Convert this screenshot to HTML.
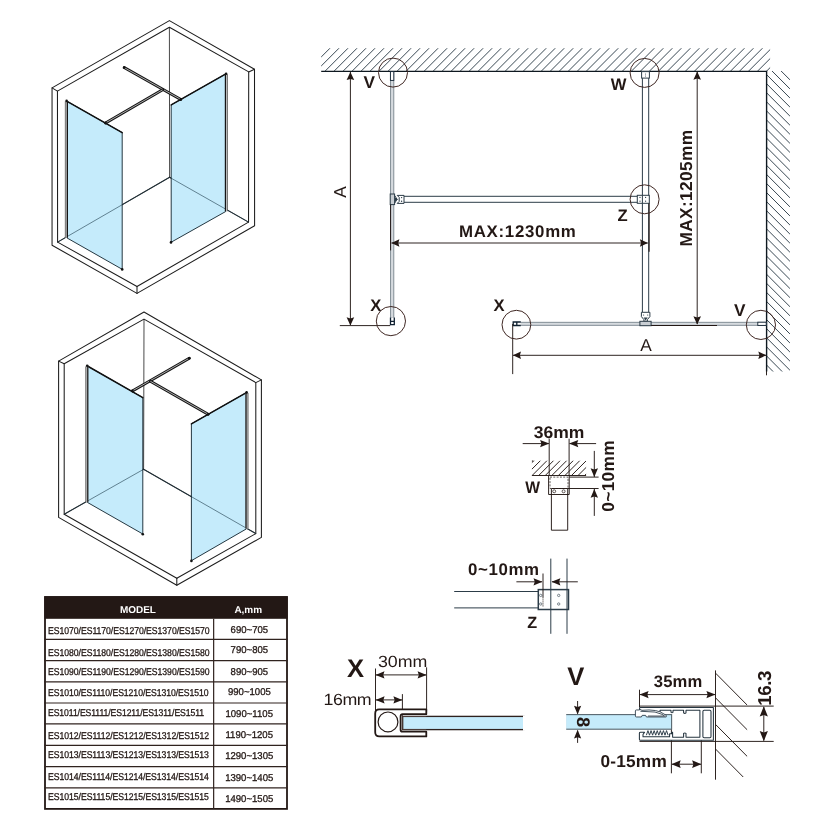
<!DOCTYPE html>
<html lang="en"><head><meta charset="utf-8"><title>Walk-in shower enclosure - installation dimensions</title>
<style>
html,body{margin:0;padding:0;background:#fff;overflow:hidden;}
svg{display:block;will-change:transform;}
text{font-family:"Liberation Sans",Arial,Helvetica,sans-serif;fill:#231815;text-rendering:geometricPrecision;}
.iso{stroke:#1c1c1c;stroke-width:1.05;fill:none;stroke-linejoin:round;stroke-linecap:round;}
.isot{stroke:#1c1c1c;stroke-width:.8;fill:none;}
.flr{stroke:#1d3b4a;stroke-width:.6;fill:none;}
.tb{stroke:#231815;stroke-width:.3;}
.gl{fill:#c5ebfb;stroke:none;}
.gle{stroke:#10222c;stroke-width:.9;fill:none;}
.glt{stroke:#111;stroke-width:1.5;fill:none;stroke-linecap:round;}
.bar{stroke:#151515;stroke-width:2.9;fill:none;stroke-linecap:round;}
.barh{stroke:#dedede;stroke-width:.75;fill:none;}
.dim{stroke:#231815;stroke-width:.95;fill:none;}
.ah{fill:#231815;stroke:none;}
.hat{stroke:#34444f;stroke-width:.98;fill:none;}
.wall{stroke:#0e1820;stroke-width:1.4;fill:none;}
.st{stroke:#2c3c48;stroke-width:1;fill:none;}
.stf{stroke:#2c3c48;stroke-width:1;fill:#fff;}
.circ{stroke:#3f2723;stroke-width:1;fill:none;}
.pg{stroke:#77838c;stroke-width:.9;fill:#d6dbdf;}
</style></head><body>
<svg width="830" height="830" viewBox="0 0 830 830">
<rect width="830" height="830" fill="#fff"/>
<g>
<polygon points="169.4,20.6 52.05,87.9 52.05,245.2 137,293.4 254.6,225.7 254.5,69.2" class="iso"/>
<polygon points="169.4,27.3 57.45,91.1 57.6,242.1 137,286.5 248.55,222.1 248.7,71.9" class="iso"/>
<line x1="52.05" y1="87.9" x2="57.45" y2="91.1" class="iso"/>
<line x1="137" y1="293.4" x2="137" y2="286.5" class="iso"/>
<line x1="254.5" y1="69.2" x2="248.7" y2="71.9" class="iso"/>
<line x1="169.4" y1="27.3" x2="169.6" y2="177.3" class="isot"/>
<line x1="169.6" y1="177.3" x2="57.6" y2="242.1" class="iso"/>
<line x1="169.6" y1="177.3" x2="248.55" y2="222.1" class="iso"/>
<polygon points="67.1,101.3 122.2,132.6 122.2,269.3 67.1,238" class="gl"/>
<polygon points="171.2,104.9 225.9,73.8 225.9,211.4 171.2,242.2" class="gl"/>
<line x1="169.6" y1="177.3" x2="57.6" y2="242.1" class="flr"/>
<line x1="169.6" y1="177.3" x2="248.55" y2="222.1" class="flr"/>
<polygon points="67.1,101.3 122.2,132.6 122.2,269.3 67.1,238" class="gle"/>
<line x1="67.1" y1="101.3" x2="122.2" y2="132.6" class="glt"/>
<polygon points="171.2,104.9 225.9,73.8 225.9,211.4 171.2,242.2" class="gle"/>
<line x1="171.2" y1="104.9" x2="225.9" y2="73.8" class="glt"/>
<line x1="66.5" y1="101.4" x2="66.5" y2="237.8" stroke="#b9b9b9" stroke-width="2.6"/>
<line x1="67.4" y1="101.4" x2="67.4" y2="237.8" stroke="#151515" stroke-width="1.2"/>
<line x1="65.3" y1="101.4" x2="65.3" y2="237.8" stroke="#3a3a3a" stroke-width=".6"/>
<line x1="226.3" y1="74.2" x2="226.3" y2="211.2" stroke="#b9b9b9" stroke-width="2.6"/>
<line x1="225.4" y1="74.2" x2="225.4" y2="211.2" stroke="#151515" stroke-width="1.2"/>
<line x1="227.5" y1="74.2" x2="227.5" y2="211.2" stroke="#3a3a3a" stroke-width=".6"/>
<line x1="124.2" y1="67.6" x2="180.8" y2="99.4" class="bar"/>
<line x1="124.2" y1="67.6" x2="180.8" y2="99.4" class="barh"/>
<line x1="105.6" y1="122.9" x2="162.6" y2="89.8" class="bar"/>
<line x1="105.6" y1="122.9" x2="162.6" y2="89.8" class="barh"/>
<circle cx="66.6" cy="100.9" r="1.3" fill="#111"/>
<circle cx="226.1" cy="73.8" r="1.3" fill="#111"/>
<circle cx="122.2" cy="269.4" r="1.3" fill="#111"/>
<circle cx="171" cy="242.4" r="1.3" fill="#111"/>
<circle cx="105.6" cy="122.9" r="1.3" fill="#111"/>
<circle cx="180.8" cy="99.4" r="1.3" fill="#111"/>
<circle cx="124.2" cy="67.6" r="1.3" fill="#111"/>
</g>
<g>
<polygon points="144,312 58.6,361.1 58.6,517.4 176.8,585.2 261.4,537.4 261.4,379.9" class="iso"/>
<polygon points="144,319.1 64.2,363.8 64.2,514.2 176.8,578.2 255.8,533.6 255.8,382.6" class="iso"/>
<line x1="58.6" y1="361.1" x2="64.2" y2="363.8" class="iso"/>
<line x1="176.8" y1="585.2" x2="176.8" y2="578.2" class="iso"/>
<line x1="261.4" y1="379.9" x2="255.8" y2="382.6" class="iso"/>
<line x1="144" y1="319.1" x2="143.6" y2="469.3" class="isot"/>
<line x1="143.6" y1="469.3" x2="64.2" y2="514.2" class="iso"/>
<line x1="143.6" y1="469.3" x2="255.8" y2="533.6" class="iso"/>
<polygon points="87.4,366 142.8,397.6 142.8,534 87.4,502.4" class="gl"/>
<polygon points="191.4,423.8 246.4,392.6 246.4,528.9 191.4,560.7" class="gl"/>
<line x1="143.6" y1="469.3" x2="64.2" y2="514.2" class="flr"/>
<line x1="143.6" y1="469.3" x2="255.8" y2="533.6" class="flr"/>
<polygon points="87.4,366 142.8,397.6 142.8,534 87.4,502.4" class="gle"/>
<line x1="87.4" y1="366" x2="142.8" y2="397.6" class="glt"/>
<polygon points="191.4,423.8 246.4,392.6 246.4,528.9 191.4,560.7" class="gle"/>
<line x1="191.4" y1="423.8" x2="246.4" y2="392.6" class="glt"/>
<line x1="86.9" y1="366.4" x2="86.9" y2="502.2" stroke="#b9b9b9" stroke-width="2.6"/>
<line x1="87.8" y1="366.4" x2="87.8" y2="502.2" stroke="#151515" stroke-width="1.2"/>
<line x1="85.7" y1="366.4" x2="85.7" y2="502.2" stroke="#3a3a3a" stroke-width=".6"/>
<line x1="246.9" y1="392.9" x2="246.9" y2="528.6" stroke="#b9b9b9" stroke-width="2.6"/>
<line x1="246" y1="392.9" x2="246" y2="528.6" stroke="#151515" stroke-width="1.2"/>
<line x1="248.1" y1="392.9" x2="248.1" y2="528.6" stroke="#3a3a3a" stroke-width=".6"/>
<line x1="132.4" y1="390.9" x2="189.3" y2="358.2" class="bar"/>
<line x1="132.4" y1="390.9" x2="189.3" y2="358.2" class="barh"/>
<line x1="150.4" y1="381.3" x2="208.1" y2="414.2" class="bar"/>
<line x1="150.4" y1="381.3" x2="208.1" y2="414.2" class="barh"/>
<circle cx="87.2" cy="365.8" r="1.3" fill="#111"/>
<circle cx="246.6" cy="392.4" r="1.3" fill="#111"/>
<circle cx="142.8" cy="534.2" r="1.3" fill="#111"/>
<circle cx="191.4" cy="560.9" r="1.3" fill="#111"/>
<circle cx="132.4" cy="390.9" r="1.3" fill="#111"/>
<circle cx="208.1" cy="414.2" r="1.3" fill="#111"/>
<circle cx="189.3" cy="358.2" r="1.3" fill="#111"/>
</g>
<g>
<rect x="45" y="597" width="242" height="211.9" fill="#fff" stroke="#231815" stroke-width="1.8"/>
<rect x="44.4" y="596.4" width="243.2" height="22.4" fill="#231815"/>
<line x1="44.4" y1="639.45" x2="287.6" y2="639.45" stroke="#30231f" stroke-width="1.2"/>
<line x1="44.4" y1="660.6" x2="287.6" y2="660.6" stroke="#30231f" stroke-width="1.2"/>
<line x1="44.4" y1="681.8" x2="287.6" y2="681.8" stroke="#30231f" stroke-width="1.2"/>
<line x1="44.4" y1="703" x2="287.6" y2="703" stroke="#30231f" stroke-width="1.2"/>
<line x1="44.4" y1="723.9" x2="287.6" y2="723.9" stroke="#30231f" stroke-width="1.2"/>
<line x1="44.4" y1="745.4" x2="287.6" y2="745.4" stroke="#30231f" stroke-width="1.2"/>
<line x1="44.4" y1="766.6" x2="287.6" y2="766.6" stroke="#30231f" stroke-width="1.2"/>
<line x1="44.4" y1="787.8" x2="287.6" y2="787.8" stroke="#30231f" stroke-width="1.2"/>
<line x1="213.65" y1="618.8" x2="213.65" y2="808.9" stroke="#30231f" stroke-width="1.2"/>
<text font-size="9.98" font-weight="bold" transform="translate(119.9 612.9)" style="fill:#fff">MODEL</text>
<text font-size="9.98" font-weight="bold" transform="translate(234.4 612.9)" style="fill:#fff">A,mm</text>
<text font-size="9.83" letter-spacing="-0.043" transform="translate(48.01 633.9) scale(0.8800 1)" class="tb">ES1070/ES1170/ES1270/ES1370/ES1570</text>
<text font-size="9.88" transform="translate(230.57 632.6) scale(0.9700 1)" class="tb">690~705</text>
<text font-size="9.83" letter-spacing="-0.043" transform="translate(48.01 656.3) scale(0.8800 1)" class="tb">ES1080/ES1180/ES1280/ES1380/ES1580</text>
<text font-size="9.88" transform="translate(230.57 653.3) scale(0.9700 1)" class="tb">790~805</text>
<text font-size="9.83" letter-spacing="-0.043" transform="translate(48.01 675.3) scale(0.8800 1)" class="tb">ES1090/ES1190/ES1290/ES1390/ES1590</text>
<text font-size="9.88" transform="translate(230.59 675.3) scale(0.9700 1)" class="tb">890~905</text>
<text font-size="9.83" letter-spacing="-0.055" transform="translate(48.01 695.9) scale(0.8800 1)" class="tb">ES1010/ES1110/ES1210/ES1310/ES1510</text>
<text font-size="9.88" transform="translate(227.93 695) scale(0.9700 1)" class="tb">990~1005</text>
<text font-size="9.83" letter-spacing="-0.101" transform="translate(48.01 715.5) scale(0.8800 1)" class="tb">ES1011/ES1111/ES1211/ES1311/ES1511</text>
<text font-size="9.88" transform="translate(225.46 717) scale(0.9700 1)" class="tb">1090~1105</text>
<text font-size="9.83" letter-spacing="-0.037" transform="translate(48.01 738.9) scale(0.8800 1)" class="tb">ES1012/ES1112/ES1212/ES1312/ES1512</text>
<text font-size="9.88" transform="translate(225.46 738.2) scale(0.9700 1)" class="tb">1190~1205</text>
<text font-size="9.83" letter-spacing="-0.047" transform="translate(48.01 757.7) scale(0.8800 1)" class="tb">ES1013/ES1113/ES1213/ES1313/ES1513</text>
<text font-size="9.88" transform="translate(225.13 759.3) scale(0.9700 1)" class="tb">1290~1305</text>
<text font-size="9.83" letter-spacing="-0.050" transform="translate(48.01 780.2) scale(0.8800 1)" class="tb">ES1014/ES1114/ES1214/ES1314/ES1514</text>
<text font-size="9.88" transform="translate(225.13 781.2) scale(0.9700 1)" class="tb">1390~1405</text>
<text font-size="9.83" letter-spacing="-0.047" transform="translate(48.01 800) scale(0.8800 1)" class="tb">ES1015/ES1115/ES1215/ES1315/ES1515</text>
<text font-size="9.88" transform="translate(225.13 801.5) scale(0.9700 1)" class="tb">1490~1505</text>
</g>
<defs>
<clipPath id="ct"><rect x="321.2" y="48.2" width="448.9" height="22.9"/></clipPath>
<clipPath id="cr"><rect x="766.5" y="71" width="23.4" height="300.5"/></clipPath>
</defs>
<g>
<g clip-path="url(#ct)">
<line x1="338.2" y1="40" x2="298.2" y2="80" class="hat"/>
<line x1="347.21" y1="40" x2="307.21" y2="80" class="hat"/>
<line x1="356.22" y1="40" x2="316.22" y2="80" class="hat"/>
<line x1="365.23" y1="40" x2="325.23" y2="80" class="hat"/>
<line x1="374.24" y1="40" x2="334.24" y2="80" class="hat"/>
<line x1="383.25" y1="40" x2="343.25" y2="80" class="hat"/>
<line x1="392.26" y1="40" x2="352.26" y2="80" class="hat"/>
<line x1="401.27" y1="40" x2="361.27" y2="80" class="hat"/>
<line x1="410.28" y1="40" x2="370.28" y2="80" class="hat"/>
<line x1="419.29" y1="40" x2="379.29" y2="80" class="hat"/>
<line x1="428.3" y1="40" x2="388.3" y2="80" class="hat"/>
<line x1="437.31" y1="40" x2="397.31" y2="80" class="hat"/>
<line x1="446.32" y1="40" x2="406.32" y2="80" class="hat"/>
<line x1="455.33" y1="40" x2="415.33" y2="80" class="hat"/>
<line x1="464.34" y1="40" x2="424.34" y2="80" class="hat"/>
<line x1="473.35" y1="40" x2="433.35" y2="80" class="hat"/>
<line x1="482.36" y1="40" x2="442.36" y2="80" class="hat"/>
<line x1="491.37" y1="40" x2="451.37" y2="80" class="hat"/>
<line x1="500.38" y1="40" x2="460.38" y2="80" class="hat"/>
<line x1="509.39" y1="40" x2="469.39" y2="80" class="hat"/>
<line x1="518.4" y1="40" x2="478.4" y2="80" class="hat"/>
<line x1="527.41" y1="40" x2="487.41" y2="80" class="hat"/>
<line x1="536.42" y1="40" x2="496.42" y2="80" class="hat"/>
<line x1="545.43" y1="40" x2="505.43" y2="80" class="hat"/>
<line x1="554.44" y1="40" x2="514.44" y2="80" class="hat"/>
<line x1="563.45" y1="40" x2="523.45" y2="80" class="hat"/>
<line x1="572.46" y1="40" x2="532.46" y2="80" class="hat"/>
<line x1="581.47" y1="40" x2="541.47" y2="80" class="hat"/>
<line x1="590.48" y1="40" x2="550.48" y2="80" class="hat"/>
<line x1="599.49" y1="40" x2="559.49" y2="80" class="hat"/>
<line x1="608.5" y1="40" x2="568.5" y2="80" class="hat"/>
<line x1="617.51" y1="40" x2="577.51" y2="80" class="hat"/>
<line x1="626.52" y1="40" x2="586.52" y2="80" class="hat"/>
<line x1="635.53" y1="40" x2="595.53" y2="80" class="hat"/>
<line x1="644.54" y1="40" x2="604.54" y2="80" class="hat"/>
<line x1="653.55" y1="40" x2="613.55" y2="80" class="hat"/>
<line x1="662.56" y1="40" x2="622.56" y2="80" class="hat"/>
<line x1="671.57" y1="40" x2="631.57" y2="80" class="hat"/>
<line x1="680.58" y1="40" x2="640.58" y2="80" class="hat"/>
<line x1="689.59" y1="40" x2="649.59" y2="80" class="hat"/>
<line x1="698.6" y1="40" x2="658.6" y2="80" class="hat"/>
<line x1="707.61" y1="40" x2="667.61" y2="80" class="hat"/>
<line x1="716.62" y1="40" x2="676.62" y2="80" class="hat"/>
<line x1="725.63" y1="40" x2="685.63" y2="80" class="hat"/>
<line x1="734.64" y1="40" x2="694.64" y2="80" class="hat"/>
<line x1="743.65" y1="40" x2="703.65" y2="80" class="hat"/>
<line x1="752.66" y1="40" x2="712.66" y2="80" class="hat"/>
<line x1="761.67" y1="40" x2="721.67" y2="80" class="hat"/>
<line x1="770.68" y1="40" x2="730.68" y2="80" class="hat"/>
<line x1="779.69" y1="40" x2="739.69" y2="80" class="hat"/>
<line x1="788.7" y1="40" x2="748.7" y2="80" class="hat"/>
<line x1="797.71" y1="40" x2="757.71" y2="80" class="hat"/>
<line x1="806.72" y1="40" x2="766.72" y2="80" class="hat"/>
</g>
<g clip-path="url(#cr)">
<line x1="760" y1="49.9" x2="800" y2="89.9" class="hat"/>
<line x1="760" y1="58.98" x2="800" y2="98.98" class="hat"/>
<line x1="760" y1="68.05" x2="800" y2="108.05" class="hat"/>
<line x1="760" y1="77.13" x2="800" y2="117.13" class="hat"/>
<line x1="760" y1="86.2" x2="800" y2="126.2" class="hat"/>
<line x1="760" y1="95.28" x2="800" y2="135.28" class="hat"/>
<line x1="760" y1="104.35" x2="800" y2="144.35" class="hat"/>
<line x1="760" y1="113.43" x2="800" y2="153.43" class="hat"/>
<line x1="760" y1="122.5" x2="800" y2="162.5" class="hat"/>
<line x1="760" y1="131.58" x2="800" y2="171.58" class="hat"/>
<line x1="760" y1="140.65" x2="800" y2="180.65" class="hat"/>
<line x1="760" y1="149.73" x2="800" y2="189.73" class="hat"/>
<line x1="760" y1="158.8" x2="800" y2="198.8" class="hat"/>
<line x1="760" y1="167.88" x2="800" y2="207.88" class="hat"/>
<line x1="760" y1="176.95" x2="800" y2="216.95" class="hat"/>
<line x1="760" y1="186.03" x2="800" y2="226.03" class="hat"/>
<line x1="760" y1="195.1" x2="800" y2="235.1" class="hat"/>
<line x1="760" y1="204.18" x2="800" y2="244.18" class="hat"/>
<line x1="760" y1="213.25" x2="800" y2="253.25" class="hat"/>
<line x1="760" y1="222.33" x2="800" y2="262.33" class="hat"/>
<line x1="760" y1="231.4" x2="800" y2="271.4" class="hat"/>
<line x1="760" y1="240.48" x2="800" y2="280.48" class="hat"/>
<line x1="760" y1="249.55" x2="800" y2="289.55" class="hat"/>
<line x1="760" y1="258.63" x2="800" y2="298.63" class="hat"/>
<line x1="760" y1="267.7" x2="800" y2="307.7" class="hat"/>
<line x1="760" y1="276.78" x2="800" y2="316.78" class="hat"/>
<line x1="760" y1="285.85" x2="800" y2="325.85" class="hat"/>
<line x1="760" y1="294.93" x2="800" y2="334.93" class="hat"/>
<line x1="760" y1="304" x2="800" y2="344" class="hat"/>
<line x1="760" y1="313.08" x2="800" y2="353.08" class="hat"/>
<line x1="760" y1="322.15" x2="800" y2="362.15" class="hat"/>
<line x1="760" y1="331.23" x2="800" y2="371.23" class="hat"/>
<line x1="760" y1="340.3" x2="800" y2="380.3" class="hat"/>
<line x1="760" y1="349.38" x2="800" y2="389.38" class="hat"/>
<line x1="760" y1="358.45" x2="800" y2="398.45" class="hat"/>
<line x1="760" y1="367.53" x2="800" y2="407.53" class="hat"/>
<line x1="760" y1="376.6" x2="800" y2="416.6" class="hat"/>
</g>
<polyline points="321.2,71.4 766.6,71.4 766.6,371.5" class="wall"/>
<line x1="766.5" y1="371" x2="766.5" y2="375.3" class="dim"/>
<rect x="390.6" y="72" width="3.2" height="246" class="pg"/>
<rect x="390.4" y="71.6" width="3.4" height="8.8" fill="#fff" stroke="#0f2030" stroke-width=".9"/>
<rect x="390.4" y="317.6" width="4" height="7.2" fill="#fff"/>
<path d="M390.5 317.4 V324.7 H394.3 V317.4 M390.5 321.4 H394.3" fill="none" stroke="#0f2030" stroke-width="1.3"/>
<rect x="516" y="322.3" width="250" height="3" class="pg"/>
<rect x="513" y="321.8" width="7.6" height="3.8" fill="#fff"/>
<path d="M520.8 322 H513.2 V325.5 H520.8 M516.8 322 V325.5" fill="none" stroke="#0f2030" stroke-width="1.3"/>
<rect x="757.8" y="322.2" width="8.4" height="3.2" fill="#fff" stroke="#0f2030" stroke-width=".9"/>
<line x1="404" y1="196.3" x2="637.3" y2="196.3" class="st" stroke-width="1.1"/>
<line x1="404" y1="202.3" x2="637.3" y2="202.3" class="st" stroke-width="1.1"/>
<rect x="390.2" y="194" width="4.4" height="10.6" class="stf" style="fill:#c9ced3"/>
<path d="M394.8 195.6 L397 199.3 L394.8 203 M397.2 195.4 H404 V203.4 H397.2 L399.2 201.4 V197.4 Z" class="st"/>
<circle cx="401.6" cy="197.6" r=".7" fill="#2c3c48"/><circle cx="401.6" cy="201.2" r=".7" fill="#2c3c48"/>
<path d="M395 197.4 L398 199.3 L395 201.4 Z" fill="#2c3c48"/>
<line x1="642.4" y1="78" x2="642.4" y2="312.3" class="st" stroke-width="1.1"/>
<line x1="648.7" y1="78" x2="648.7" y2="312.3" class="st" stroke-width="1.1"/>
<rect x="641.6" y="71.6" width="7.8" height="6.5" class="stf"/>
<circle cx="645.5" cy="74" r=".5" fill="#2c3c48"/><circle cx="645.5" cy="76" r=".5" fill="#2c3c48"/>
<rect x="637.3" y="195.3" width="12" height="8" class="stf" stroke-width="1"/>
<line x1="642.4" y1="195.3" x2="642.4" y2="203.3" class="st"/>
<circle cx="640" cy="197.4" r=".6" fill="#2c3c48"/><circle cx="640" cy="201.2" r=".6" fill="#2c3c48"/>
<circle cx="645.6" cy="197.4" r=".6" fill="#2c3c48"/><circle cx="645.6" cy="201.2" r=".6" fill="#2c3c48"/>
<path d="M641.4 312.3 H649.9 V316.6 L647.4 319.6 V321.3 H643.9 V319.6 L641.4 316.6 Z" class="stf"/>
<path d="M643.6 317.6 L645.6 320.6 L647.7 317.6 Z" fill="#2c3c48"/>
<circle cx="643.6" cy="315" r=".6" fill="#2c3c48"/><circle cx="647.7" cy="315" r=".6" fill="#2c3c48"/>
<rect x="639.9" y="321.3" width="11.2" height="4.4" class="stf" style="fill:#c9ced3"/>
<line x1="350.4" y1="72" x2="350.4" y2="325" class="dim"/>
<polygon points="350.4,72 346.6,80.1 350.4,78.97 354.2,80.1" class="ah"/>
<polygon points="350.4,325.4 346.6,317.3 350.4,318.43 354.2,317.3" class="ah"/>
<line x1="339.8" y1="325.6" x2="390.2" y2="325.6" class="dim"/>
<text font-size="17.26" transform="translate(346 197.64) rotate(-90)">A</text>
<line x1="390.6" y1="204.6" x2="390.6" y2="250.4" stroke="#231815" stroke-width="1"/>
<line x1="391.5" y1="243" x2="647.7" y2="243" class="dim"/>
<polygon points="391.3,243 399.4,239.2 398.27,243 399.4,246.8" class="ah"/>
<polygon points="648,243 639.9,239.2 641.03,243 639.9,246.8" class="ah"/>
<text font-size="16.85" font-weight="bold" letter-spacing="0.709" transform="translate(459 237.4)">MAX:1230mm</text>
<line x1="649.1" y1="203.3" x2="649.1" y2="251.8" stroke="#231815" stroke-width="1.1"/>
<line x1="697.2" y1="72" x2="697.2" y2="324" class="dim"/>
<polygon points="697.2,71.6 693.4,79.7 697.2,78.57 701,79.7" class="ah"/>
<polygon points="697.2,324.4 693.4,316.3 697.2,317.43 701,316.3" class="ah"/>
<text font-size="17.26" font-weight="bold" letter-spacing="0.390" transform="translate(692 246.52) rotate(-90)">MAX:1205mm</text>
<line x1="651.1" y1="325.5" x2="717" y2="325.5" stroke="#231815" stroke-width="1"/>
<line x1="512.7" y1="324" x2="512.7" y2="374.1" class="dim"/>
<line x1="513" y1="355.3" x2="766.2" y2="355.3" class="dim"/>
<polygon points="512.9,355.3 521,351.5 519.87,355.3 521,359.1" class="ah"/>
<polygon points="766.4,355.3 758.3,351.5 759.43,355.3 758.3,359.1" class="ah"/>
<text font-size="17.26" transform="translate(640.36 351)">A</text>
<circle cx="393" cy="72.6" r="14.5" class="circ"/>
<circle cx="644.6" cy="72.9" r="14.5" class="circ"/>
<circle cx="644.6" cy="199.3" r="14.5" class="circ"/>
<circle cx="390.9" cy="321.1" r="14.6" class="circ"/>
<circle cx="516.4" cy="324.7" r="14.4" class="circ"/>
<circle cx="760.9" cy="324.9" r="14.6" class="circ"/>
<text font-size="17.26" font-weight="bold" transform="translate(363.46 87.9)">V</text>
<text font-size="16.64" font-weight="bold" transform="translate(610.74 90.1)">W</text>
<text font-size="16.64" font-weight="bold" transform="translate(617.38 220.8)">Z</text>
<text font-size="16.64" font-weight="bold" transform="translate(370.37 311)">X</text>
<text font-size="16.64" font-weight="bold" transform="translate(493.57 311)">X</text>
<text font-size="17.26" font-weight="bold" transform="translate(734.01 316)">V</text>
</g>
<defs><clipPath id="cw"><rect x="531.9" y="460.8" width="54.2" height="14.7"/></clipPath></defs>
<g>
<text font-size="16.85" font-weight="bold" letter-spacing="-0.016" transform="translate(533.76 437.7) scale(1.0400 1)">36mm</text>
<line x1="522.7" y1="443.6" x2="548.9" y2="443.6" class="dim"/>
<polygon points="549.3,443.6 540.1,440 541.39,443.6 540.1,447.2" class="ah"/>
<line x1="569.6" y1="443.6" x2="596.1" y2="443.6" class="dim"/>
<polygon points="569.1,443.6 578.3,440 577.01,443.6 578.3,447.2" class="ah"/>
<line x1="549.2" y1="438.7" x2="549.2" y2="476" class="dim"/>
<line x1="569.1" y1="438.7" x2="569.1" y2="476" class="dim"/>
<g clip-path="url(#cw)">
<line x1="554.5" y1="440" x2="504.5" y2="490" class="dim" stroke-width="0.9"/>
<line x1="561.06" y1="440" x2="511.06" y2="490" class="dim" stroke-width="0.9"/>
<line x1="567.62" y1="440" x2="517.62" y2="490" class="dim" stroke-width="0.9"/>
<line x1="574.18" y1="440" x2="524.18" y2="490" class="dim" stroke-width="0.9"/>
<line x1="580.74" y1="440" x2="530.74" y2="490" class="dim" stroke-width="0.9"/>
<line x1="587.3" y1="440" x2="537.3" y2="490" class="dim" stroke-width="0.9"/>
<line x1="593.86" y1="440" x2="543.86" y2="490" class="dim" stroke-width="0.9"/>
<line x1="600.42" y1="440" x2="550.42" y2="490" class="dim" stroke-width="0.9"/>
<line x1="606.98" y1="440" x2="556.98" y2="490" class="dim" stroke-width="0.9"/>
<line x1="613.54" y1="440" x2="563.54" y2="490" class="dim" stroke-width="0.9"/>
<line x1="620.1" y1="440" x2="570.1" y2="490" class="dim" stroke-width="0.9"/>
<line x1="626.66" y1="440" x2="576.66" y2="490" class="dim" stroke-width="0.9"/>
<line x1="633.22" y1="440" x2="583.22" y2="490" class="dim" stroke-width="0.9"/>
</g>
<line x1="531.9" y1="461" x2="534.6" y2="461" class="dim" stroke-dasharray="1.4 1.2"/>
<line x1="531.9" y1="475.5" x2="586.1" y2="475.5" class="dim" stroke-width="0.9"/>
<line x1="569.3" y1="477.1" x2="598.6" y2="477.1" class="dim"/>
<line x1="567.7" y1="488.5" x2="598.6" y2="488.5" class="dim"/>
<polyline points="548.6,475.5 548.6,494.5 569.2,494.5 569.2,475.5" class="dim" stroke-width="1"/>
<rect x="550" y="477.1" width="18" height="11.4" fill="none" stroke="#231815" stroke-width=".7" stroke-dasharray="2 1.3"/>
<line x1="551.4" y1="488.5" x2="567.7" y2="488.5" class="dim" stroke-width=".9"/>
<polyline points="551.4,488.5 551.4,530.2 567.7,530.2 567.7,488.5" class="dim" stroke-width="1"/>
<circle cx="554.2" cy="491.3" r="1.5" fill="#fff" stroke="#231815" stroke-width=".7"/><circle cx="563.6" cy="491.3" r="1.5" fill="#fff" stroke="#231815" stroke-width=".7"/>
<line x1="594.3" y1="450.9" x2="594.3" y2="477" class="dim"/>
<polygon points="594.3,477.1 590.6,468.2 594.3,469.45 598,468.2" class="ah"/>
<line x1="594.3" y1="489" x2="594.3" y2="515.9" class="dim"/>
<polygon points="594.3,488.9 590.6,497.8 594.3,496.55 598,497.8" class="ah"/>
<text font-size="17.26" font-weight="bold" letter-spacing="0.350" transform="translate(614.3 511.69) rotate(-90)">0~10mm</text>
<text font-size="16.64" font-weight="bold" transform="translate(525.21 493.4) scale(0.9400 1)">W</text>
</g>
<g>
<text font-size="16.85" font-weight="bold" letter-spacing="0.637" transform="translate(467.93 575.4)">0~10mm</text>
<line x1="454.2" y1="591.5" x2="538.3" y2="591.5" class="st" stroke-width="1.3"/>
<line x1="454.2" y1="607.9" x2="538.3" y2="607.9" class="st" stroke-width="1.3"/>
<line x1="550.8" y1="558.6" x2="550.8" y2="633.8" class="st" stroke-width="1.3"/>
<line x1="567" y1="558.6" x2="567" y2="633.8" class="st" stroke-width="1.3"/>
<rect x="538.3" y="589.6" width="30.2" height="19.9" fill="none" stroke="#2c3c48" stroke-width="1.5"/>
<line x1="543" y1="573.5" x2="543" y2="597.4" class="dim"/>
<line x1="543" y1="597.4" x2="543" y2="606.4" class="dim" stroke-dasharray="1 1"/>
<line x1="516.4" y1="581.8" x2="542" y2="581.8" class="dim"/>
<polygon points="542.4,581.8 533.5,578.2 534.75,581.8 533.5,585.4" class="ah"/>
<line x1="552" y1="581.8" x2="577.8" y2="581.8" class="dim"/>
<polygon points="551.5,581.8 560.4,578.2 559.15,581.8 560.4,585.4" class="ah"/>
<circle cx="540.7" cy="595.4" r="1.2" fill="#fff" stroke="#2c3c48" stroke-width=".6"/>
<circle cx="540.7" cy="604" r="1.2" fill="#fff" stroke="#2c3c48" stroke-width=".6"/>
<circle cx="558.7" cy="595.4" r="1.2" fill="#fff" stroke="#2c3c48" stroke-width=".6"/>
<circle cx="558.7" cy="604" r="1.2" fill="#fff" stroke="#2c3c48" stroke-width=".6"/>
<text font-size="16.22" font-weight="bold" transform="translate(527.21 628)">Z</text>
</g>
<g>
<text font-size="25.58" font-weight="bold" transform="translate(346.89 677.4)">X</text>
<text font-size="16.22" letter-spacing="-0.012" transform="translate(377.89 666.6) scale(1.1000 1)">30mm</text>
<text font-size="16.22" letter-spacing="-0.429" transform="translate(323.56 704.6) scale(1.1000 1)">16mm</text>
<line x1="375.5" y1="668.5" x2="375.5" y2="710.8" class="dim"/>
<line x1="426.6" y1="667.3" x2="426.6" y2="711.7" class="dim"/>
<line x1="402.4" y1="694.1" x2="402.4" y2="715.8" class="dim"/>
<line x1="376" y1="674.9" x2="426" y2="674.9" class="dim"/>
<polygon points="375.5,674.9 384.5,671.3 383.24,674.9 384.5,678.5" class="ah"/>
<polygon points="426.6,674.9 417.6,671.3 418.86,674.9 417.6,678.5" class="ah"/>
<line x1="376" y1="699.9" x2="402" y2="699.9" class="dim"/>
<polygon points="375.6,699.9 384.6,696.3 383.34,699.9 384.6,703.5" class="ah"/>
<polygon points="402.4,699.9 393.4,696.3 394.66,699.9 393.4,703.5" class="ah"/>
<rect x="402.6" y="716.4" width="121.4" height="13.2" fill="#c5ebfb" stroke="#2e211e" stroke-width="1.35"/>
<rect x="523" y="715.4" width="3" height="15.4" fill="#fff"/>
<path d="M426.3 714.2 V709.4 H379.3 Q375.2 709.4 375.2 713.5 V732.3 Q375.2 736.4 379.3 736.4 H426.3 V731.7 H402.6 Q400.6 731.7 400.6 729.7 V716.2 Q400.6 714.2 402.6 714.2 Z" fill="#fff" stroke="#231815" stroke-width="1.8" stroke-linejoin="round"/>
<path d="M426.3 716.5 H402.6 V729.5 H426.3" fill="none" stroke="#4a3b38" stroke-width="1"/>
<circle cx="388" cy="721.9" r="9.9" fill="#fff" stroke="#231815" stroke-width="1.2"/>
</g>
<defs><clipPath id="cv"><rect x="715.5" y="668" width="31.6" height="109"/></clipPath></defs>
<g>
<text font-size="25.58" font-weight="bold" transform="translate(567.19 684.6)">V</text>
<text font-size="16.64" font-weight="bold" letter-spacing="0.208" transform="translate(653.68 687.2)">35mm</text>
<text font-size="17.26" font-weight="bold" letter-spacing="0.234" transform="translate(600.41 767)">0-15mm</text>
<text font-size="18.72" font-weight="bold" letter-spacing="-0.411" transform="translate(770.5 705.82) rotate(-90)">16.3</text>
<line x1="639.5" y1="689.7" x2="639.5" y2="707" class="dim"/>
<line x1="640" y1="694.6" x2="715" y2="694.6" class="dim"/>
<polygon points="639.6,694.6 648.6,690.9 647.34,694.6 648.6,698.3" class="ah"/>
<polygon points="715.4,694.6 706.4,690.9 707.66,694.6 706.4,698.3" class="ah"/>
<line x1="715.5" y1="670.4" x2="715.5" y2="779.7" class="dim" stroke-width="1"/>
<g clip-path="url(#cv)">
<line x1="715.5" y1="673.1" x2="755.5" y2="713.5" class="dim" stroke-width="1"/>
<line x1="715.5" y1="697.8" x2="755.5" y2="738.2" class="dim" stroke-width="1"/>
<line x1="715.5" y1="724.4" x2="755.5" y2="764.8" class="dim" stroke-width="1"/>
<line x1="715.5" y1="749" x2="755.5" y2="789.4" class="dim" stroke-width="1"/>
</g>
<line x1="639.5" y1="706.1" x2="773.7" y2="706.1" class="dim"/>
<line x1="639.5" y1="741.4" x2="773.7" y2="741.4" class="dim"/>
<line x1="763.8" y1="707" x2="763.8" y2="740.6" class="dim"/>
<polygon points="763.8,706.2 759.7,716.4 763.8,714.97 767.9,716.4" class="ah"/>
<polygon points="763.8,741.3 759.7,731.1 763.8,732.53 767.9,731.1" class="ah"/>
<line x1="671.4" y1="729" x2="671.4" y2="773.3" class="dim"/>
<line x1="701.3" y1="738.4" x2="701.3" y2="773.3" class="dim"/>
<line x1="672" y1="764.2" x2="701" y2="764.2" class="dim"/>
<polygon points="671.5,764.2 680.7,760.3 679.41,764.2 680.7,768.1" class="ah"/>
<polygon points="701.3,764.2 692.1,760.3 693.39,764.2 692.1,768.1" class="ah"/>
<g transform="translate(0 723.9) scale(1 0.948) translate(0 -723.9)">
<path d="M639.6 706.6 H713.4 V741.2 H640.6 Q639.4 741.2 639.4 740 V733.6 Q639.4 732.6 640.6 732.6 H644.6 L643 735 V737.4 H669.6 V734.4 H671.6 V732.8 H672.6 V738.1 H683.6 V734 Q684.8 732.8 686 734 V738.1 H699.9 V709.5 H686 V712.2 Q684.8 713.4 683.6 712.2 V709.5 H673 V711.6 Q672 712.8 671 711.6 V709.5 H660 V712 H639.6 Z" fill="#fff" stroke="#25343f" stroke-width="1.05" stroke-linejoin="round"/>
<rect x="702.9" y="709.5" width="8.1" height="28.9" rx="1.2" fill="#fff" stroke="#25343f" stroke-width="1.05" stroke-linejoin="round"/>
<polyline points="646.4,735.8 647.95,731 649.5,735.8 651.05,731 652.6,735.8 654.15,731 655.7,735.8 657.25,731 658.8,735.8 660.35,731 661.9,735.8 663.45,731 665,735.8 666.55,731 668.1,735.8" class="st" stroke-width=".8"/>
</g>
<rect x="565.5" y="714.6" width="106.1" height="14.6" fill="#c5ebfb" stroke="#57656e" stroke-width="1.1"/>
<rect x="564" y="713.8" width="2.2" height="16.2" fill="#fff"/>
<g transform="translate(0 723.9) scale(1 0.948) translate(0 -723.9)">
<path d="M636.4 709.2 H639.6 V708.4 L642 709.6 L649 709.2 L655.4 709.8 L660.2 711.2 L666.2 714.8 V716.6 H646.4 L645.6 714.9 H642.2 L641.4 716.6 H636.4 Q635.4 716.6 635.4 715.6 V710.2 Q635.4 709.2 636.4 709.2 Z" fill="#fff" stroke="#2c3c48" stroke-width=".9" stroke-linejoin="round"/>
<path d="M640.4 710.6 L648 711 L655 711.4 L662 713.8 L664.6 715.6 H648" fill="none" stroke="#2c3c48" stroke-width=".9"/>
</g>
<text font-size="18.3" font-weight="bold" transform="translate(577.4 717.12) rotate(90)">8</text>
<line x1="577.6" y1="701" x2="577.6" y2="713.6" class="dim"/>
<polygon points="577.6,714.4 574,705.7 577.6,706.92 581.2,705.7" class="ah"/>
<line x1="577.6" y1="730.6" x2="577.6" y2="742.9" class="dim"/>
<polygon points="577.6,729.8 574,738.5 577.6,737.28 581.2,738.5" class="ah"/>
</g>
</svg></body></html>
